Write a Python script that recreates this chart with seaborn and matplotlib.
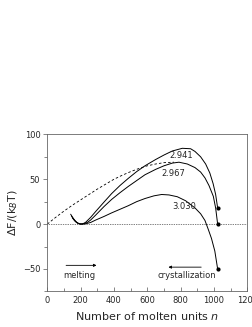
import matplotlib
matplotlib.use("Agg")
import matplotlib.pyplot as plt
from matplotlib.ticker import MultipleLocator
import seaborn as sns
import pandas as pd

# free energy profiles
n_2941 = [140, 155, 170, 185, 200, 215, 230, 260, 290, 340, 386, 436, 486, 536, 586,
          650, 700, 750, 810, 860, 886, 920, 950, 975, 995, 1010, 1022]
f_2941 = [11, 6.5, 3, 0.8, 0, 0.5, 2, 7.5, 14, 24.5, 34, 43, 51, 58.5, 65,
          72, 77, 81.5, 84.5, 84, 81, 75, 67, 57, 45, 33, 18]

n_2967 = [145, 160, 175, 190, 205, 220, 240, 260, 290, 340, 386, 436, 486, 536, 586,
          650, 700, 750, 790, 840, 886, 920, 946, 970, 996, 1010, 1022]
f_2967 = [9, 5, 2, 0.5, 0, 0.4, 1.8, 4.5, 10, 19.5, 27.5, 35, 42, 48.5, 55,
          61, 65, 68, 69, 67, 63, 58, 51.5, 43, 31, 18, 0]

n_3030 = [150, 165, 180, 195, 210, 230, 260, 290, 340, 386, 436, 486, 536, 586,
          640, 686, 730, 780, 830, 886, 920, 946, 966, 985, 1005, 1022]
f_3030 = [7, 3.5, 1.2, 0.2, 0, 0.3, 1.8, 4.5, 8.5, 12.5, 16.5, 20.5, 25, 28.5,
          31.5, 33, 32.5, 30.5, 26, 18, 11.5, 4, -6, -16, -30, -50]

n_dash = [0, 50, 100, 150, 200, 250, 300, 350, 400, 450, 500, 550, 600, 650, 700, 760]
f_dash = [0, 7.5, 14.5, 21, 27, 33, 39, 44.5, 50, 54.5, 58.5, 62, 65, 67, 68.5, 69]

end_n = [1022, 1022, 1022]
end_f = [18, 0, -50]

curve_labels = ["2.941", "2.967", "3.030"]
label_n = [802, 758, 820]
label_f = [77, 56, 20]

sns.set_style("ticks")
plt.rcParams['font.family'] = ['DejaVu Sans']

fig = plt.figure(figsize=(2.53, 3.27), dpi=100)
ax = fig.add_axes([0.187, 0.109, 0.7905, 0.48])

for nn, ff in [(n_2941, f_2941), (n_2967, f_2967), (n_3030, f_3030)]:
    df = pd.DataFrame({"n": nn, "F": ff})
    sns.lineplot(data=df, x="n", y="F", ax=ax, color="black", lw=0.7,
                 sort=False, estimator=None)

df_d = pd.DataFrame({"n": n_dash, "F": f_dash})
sns.lineplot(data=df_d, x="n", y="F", ax=ax, color="black", lw=0.6,
             linestyle=(0, (3, 2.5)), sort=False, estimator=None)

sns.scatterplot(x=end_n, y=end_f, ax=ax, color="black", s=9, linewidth=0, zorder=5)

ax.axhline(0, color="black", lw=0.5, linestyle=(0, (1, 1.5)))

for t, x, y in zip(curve_labels, label_n, label_f):
    ax.text(x, y, t, fontsize=6, ha="center", va="center")

# arrows
ax.annotate("", xy=(312, -46), xytext=(96, -46),
            arrowprops=dict(arrowstyle="-|>", color="black", lw=0.6,
                            mutation_scale=4))
ax.text(96, -57, "melting", fontsize=6, ha="left", va="center")
ax.annotate("", xy=(710, -48), xytext=(940, -48),
            arrowprops=dict(arrowstyle="-|>", color="black", lw=0.6,
                            mutation_scale=4))
ax.text(838, -57, "crystallization", fontsize=6, ha="center", va="center")

ax.set_xlim(0, 1200)
ax.set_ylim(-75, 100)
ax.xaxis.set_major_locator(MultipleLocator(200))
ax.xaxis.set_minor_locator(MultipleLocator(100))
ax.yaxis.set_major_locator(MultipleLocator(50))
ax.yaxis.set_minor_locator(MultipleLocator(25))
ax.tick_params(axis="x", which="both", direction="in", labelsize=6, pad=3,
               width=0.5, color="#555555")
ax.tick_params(axis="x", which="major", length=3)
ax.tick_params(axis="x", which="minor", length=2)
ax.tick_params(axis="y", which="both", direction="out", labelsize=6, pad=2,
               width=0.5, color="#555555")
ax.tick_params(axis="y", which="major", length=3)
ax.tick_params(axis="y", which="minor", length=2)
for s in ax.spines.values():
    s.set_linewidth(0.6)
    s.set_color("#666666")

ax.set_xlabel("Number of molten units $n$", fontsize=8, labelpad=4)
ax.set_ylabel(r"$\Delta$F/(k$_B$T)", fontsize=8, labelpad=2)

fig.savefig("out.png", dpi=100)
